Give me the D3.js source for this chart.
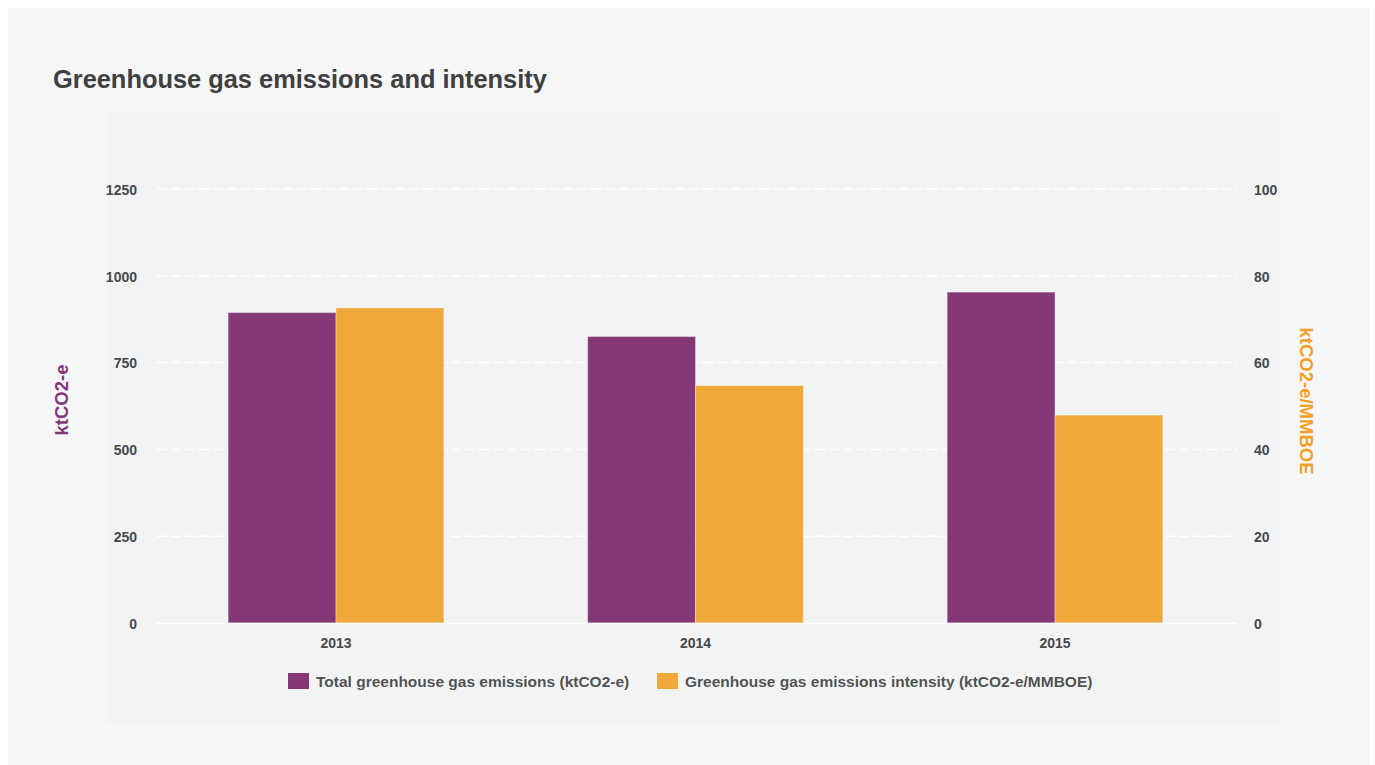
<!DOCTYPE html>
<html><head><meta charset="utf-8">
<script src="https://cdn.jsdelivr.net/npm/d3@7"></script>
<style>
html,body{margin:0;padding:0;background:#fff;}
svg{display:block;font-family:"Liberation Sans",Arial,Helvetica,sans-serif;}
</style></head>
<body>
<svg id="chart" width="1375" height="765"></svg>
<script>
const categories = ["2013", "2014", "2015"];
const emissions = [894, 825, 953];
const intensity = [72.6, 54.7, 47.9];
const leftTicks = [0, 250, 500, 750, 1000, 1250];
const rightTicks = [0, 20, 40, 60, 80, 100];
const seriesNames = ["Total greenhouse gas emissions (ktCO2-e)", "Greenhouse gas emissions intensity (ktCO2-e/MMBOE)"];
const colors = ["#863777", "#efa83a"];

const svg = d3.select("#chart");
svg.append("rect").attr("x", 8).attr("y", 8).attr("width", 1362).attr("height", 757).attr("fill", "#f5f6f6");
svg.append("rect").attr("x", 107).attr("y", 113).attr("width", 1173).attr("height", 610).attr("fill", "#f2f3f5");

svg.append("text").attr("x", 53).attr("y", 88).attr("fill", "#404040").attr("font-size", 25.4)
  .attr("font-weight", "bold").text("Greenhouse gas emissions and intensity");

const x0 = d3.scaleBand().domain(categories).range([156.25, 1234.75]).paddingInner(0.4).paddingOuter(0.2);
const x1 = d3.scaleBand().domain([0, 1]).range([0, x0.bandwidth()]);
const yL = d3.scaleLinear().domain([0, 1250]).range([623, 189]);
const yR = d3.scaleLinear().domain([0, 100]).range([623, 189]);

// grid
const grid = svg.append("g");
grid.selectAll("line").data(leftTicks.filter(d => d > 0)).join("line")
  .attr("x1", 157).attr("x2", 1237).attr("y1", d => yL(d)).attr("y2", d => yL(d))
  .attr("stroke", "#ffffff").attr("stroke-width", 1.5).attr("stroke-dasharray", "10,4");

// bars
const groups = svg.append("g").selectAll("g").data(categories).join("g")
  .attr("transform", d => `translate(${x0(d)},0)`);
groups.append("rect").attr("x", x1(0)).attr("width", x1.bandwidth())
  .attr("y", (d, i) => yL(emissions[i])).attr("height", (d, i) => yL(0) - yL(emissions[i]))
  .attr("fill", colors[0]).attr("stroke", "rgba(255,255,255,0.35)").attr("stroke-width", 1);
groups.append("rect").attr("x", x1(1)).attr("width", x1.bandwidth())
  .attr("y", (d, i) => yR(intensity[i])).attr("height", (d, i) => yR(0) - yR(intensity[i]))
  .attr("fill", colors[1]).attr("stroke", "rgba(255,255,255,0.35)").attr("stroke-width", 1);

// baseline
svg.append("line").attr("x1", 157).attr("x2", 1237).attr("y1", yL(0) + 0.5).attr("y2", yL(0) + 0.5)
  .attr("stroke", "#ffffff").attr("stroke-width", 1.5);

// axes
const axL = svg.append("g").attr("transform", "translate(137,0)")
  .call(d3.axisLeft(yL).tickValues(leftTicks).tickFormat(d3.format("d")).tickSize(0).tickPadding(0));
const axR = svg.append("g").attr("transform", "translate(1254,0)")
  .call(d3.axisRight(yR).tickValues(rightTicks).tickFormat(d3.format("d")).tickSize(0).tickPadding(0));
const axB = svg.append("g").attr("transform", "translate(0,638)")
  .call(d3.axisBottom(x0).tickSize(0).tickPadding(0));
[axL, axR, axB].forEach(a => {
  a.select(".domain").remove();
  a.selectAll("text").attr("fill", "#484848").attr("font-size", 14).attr("font-weight", "bold")
    .attr("font-family", "'Liberation Sans', Arial, sans-serif");
});
axL.selectAll("text").attr("dy", "0.38em");
axR.selectAll("text").attr("dy", "0.38em");

// axis titles
svg.append("text").attr("transform", "translate(68,400) rotate(-90)").attr("text-anchor", "middle")
  .attr("fill", "#85367a").attr("font-size", 18.5).attr("font-weight", "bold").text("ktCO2-e");
svg.append("text").attr("transform", "translate(1300,401) rotate(90)").attr("text-anchor", "middle")
  .attr("fill", "#f59f25").attr("font-size", 18.5).attr("font-weight", "bold").text("ktCO2-e/MMBOE");

// legend
const legX = [288, 657];
const leg = svg.append("g").selectAll("g").data(seriesNames).join("g")
  .attr("transform", (d, i) => `translate(${legX[i]},673)`);
leg.append("rect").attr("width", 21).attr("height", 16).attr("fill", (d, i) => colors[i]);
leg.append("text").attr("x", 28).attr("y", 14).attr("fill", "#333").attr("font-size", 15.5)
  .attr("font-weight", "bold").attr("fill-opacity", 0.85).text(d => d);
</script>
</body></html>
